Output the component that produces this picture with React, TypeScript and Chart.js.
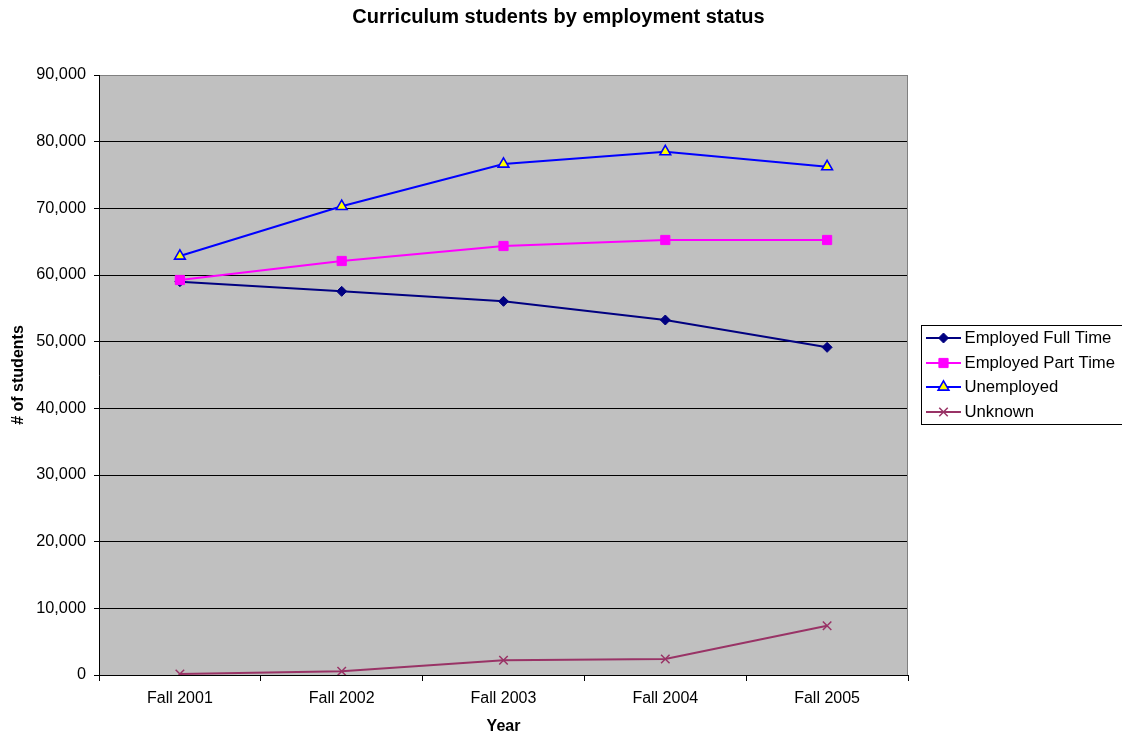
import React, { useEffect, useRef } from "react";
import { Chart, registerables } from "chart.js";
import { drawPoint } from "chart.js/helpers";

Chart.register(...registerables);

// Enrolment counts per fall term
const years = ["Fall 2001", "Fall 2002", "Fall 2003", "Fall 2004", "Fall 2005"];
const employedFullTime = [59000, 57550, 56050, 53250, 49150];
const employedPartTime = [59250, 62100, 64350, 65250, 65250];
const unemployed = [62850, 70300, 76650, 78500, 76250];
const unknown = [150, 550, 2200, 2400, 7390];

const seriesNames = ["Employed Full Time", "Employed Part Time", "Unemployed", "Unknown"];
const yTicks = [0, 10000, 20000, 30000, 40000, 50000, 60000, 70000, 80000, 90000];

const chartTitle = "Curriculum students by employment status";
const xTitle = "Year";
const yTitle = "# of students";

const FONT = '"Liberation Sans", Arial, Helvetica, sans-serif';

type SeriesStyle = {
  line: string;
  fill: string;
  pointStyle: string;
  radius: number;
  borderWidth: number;
};

const styles: SeriesStyle[] = [
  { line: "#000080", fill: "#000080", pointStyle: "rectRot", radius: 5, borderWidth: 1 },
  { line: "#FF00FF", fill: "#FF00FF", pointStyle: "rect", radius: 6.5, borderWidth: 1 },
  { line: "#0000FF", fill: "#FFFF00", pointStyle: "triangle", radius: 6.2, borderWidth: 1.6 },
  { line: "#993366", fill: "#993366", pointStyle: "crossRot", radius: 6, borderWidth: 1.5 },
];

const seriesData = [employedFullTime, employedPartTime, unemployed, unknown];

const PLOT = { left: 99, right: 908, top: 75, bottom: 675 };
const W = 1122;
const H = 740;

const decorations = {
  id: "excelDecorations",
  beforeDraw(chart: any) {
    const { ctx, chartArea } = chart;
    ctx.save();
    ctx.fillStyle = "#FFFFFF";
    ctx.fillRect(0, 0, W, H);
    ctx.fillStyle = "#C0C0C0";
    ctx.fillRect(chartArea.left, chartArea.top, chartArea.right - chartArea.left, chartArea.bottom - chartArea.top);
    ctx.restore();
  },
  beforeDatasetsDraw(chart: any) {
    const { ctx, chartArea } = chart;
    ctx.save();
    ctx.strokeStyle = "#808080";
    ctx.lineWidth = 1;
    ctx.beginPath();
    ctx.moveTo(Math.round(chartArea.right) - 0.5, chartArea.top);
    ctx.lineTo(Math.round(chartArea.right) - 0.5, chartArea.bottom);
    ctx.stroke();
    ctx.restore();
  },
  afterDraw(chart: any) {
    const { ctx, chartArea } = chart;
    ctx.save();
    ctx.fillStyle = "#000000";

    // Title
    ctx.font = `bold 20px ${FONT}`;
    ctx.textAlign = "center";
    ctx.textBaseline = "middle";
    ctx.fillText(chartTitle, 558.5, 17);

    // X axis title
    ctx.font = `bold 16px ${FONT}`;
    ctx.fillText(xTitle, (chartArea.left + chartArea.right) / 2, 727);

    // Y axis title
    ctx.save();
    ctx.translate(19, (chartArea.top + chartArea.bottom) / 2);
    ctx.rotate(-Math.PI / 2);
    ctx.fillText(yTitle, 0, 0);
    ctx.restore();

    // Legend
    const box = { left: 921, top: 325, right: W + 2, bottom: 424 };
    ctx.fillStyle = "#FFFFFF";
    ctx.fillRect(box.left, box.top, box.right - box.left, box.bottom - box.top);
    ctx.strokeStyle = "#000000";
    ctx.lineWidth = 1;
    ctx.strokeRect(box.left + 0.5, box.top + 0.5, box.right - box.left, box.bottom - box.top);

    const rows = [338, 363, 387, 412];
    seriesNames.forEach((name, i) => {
      const s = styles[i];
      const y = rows[i];
      ctx.strokeStyle = s.line;
      ctx.lineWidth = 2;
      ctx.beginPath();
      ctx.moveTo(926, y);
      ctx.lineTo(961, y);
      ctx.stroke();
      ctx.fillStyle = s.fill;
      ctx.strokeStyle = s.line;
      ctx.lineWidth = s.borderWidth;
      drawPoint(ctx, { pointStyle: s.pointStyle as any, radius: s.radius, rotation: 0, borderWidth: s.borderWidth }, 943.5, y);
      ctx.fillStyle = "#000000";
      ctx.font = `16.7px ${FONT}`;
      ctx.textAlign = "left";
      ctx.textBaseline = "middle";
      ctx.fillText(name, 964.5, y + 0.5);
    });
    ctx.restore();
  },
};

export default function App() {
  const canvasRef = useRef<HTMLCanvasElement | null>(null);

  useEffect(() => {
    const canvas = canvasRef.current;
    if (!canvas) return;

    const chart = new Chart(canvas, {
      type: "line",
      data: {
        labels: years,
        datasets: seriesData.map((values, i) => ({
          label: seriesNames[i],
          data: values,
          borderColor: styles[i].line,
          backgroundColor: styles[i].fill,
          borderWidth: 2,
          pointStyle: styles[i].pointStyle as any,
          pointRadius: styles[i].radius,
          pointBorderWidth: styles[i].borderWidth,
          pointBorderColor: styles[i].line,
          pointBackgroundColor: styles[i].fill,
          tension: 0,
          fill: false,
          order: 4 - i,
        })),
      },
      options: {
        responsive: false,
        animation: false,
        devicePixelRatio: 1,
        layout: {
          padding: { left: 0, top: PLOT.top, right: W - PLOT.right, bottom: 0 },
        },
        plugins: {
          legend: { display: false },
          title: { display: false },
          tooltip: { enabled: false },
        },
        scales: {
          x: {
            type: "category",
            offset: true,
            afterFit(scale: any) {
              scale.height = H - PLOT.bottom;
            },
            grid: {
              offset: true,
              drawOnChartArea: false,
              drawTicks: true,
              tickLength: 6,
              tickColor: "#000000",
              lineWidth: 1,
            },
            border: { display: true, color: "#000000", width: 1 },
            ticks: {
              color: "#000000",
              font: { family: FONT, size: 16 },
              padding: 8,
              maxRotation: 0,
            },
          },
          y: {
            min: 0,
            max: 90000,
            afterFit(scale: any) {
              scale.width = PLOT.left;
            },
            afterBuildTicks(scale: any) {
              scale.ticks = yTicks.map((v) => ({ value: v }));
            },
            grid: {
              color: (c: any) => (c.tick && c.tick.value === 90000 ? "#808080" : "#000000"),
              lineWidth: 1,
              drawTicks: true,
              tickLength: 5,
              tickColor: "#000000",
            },
            border: { display: true, color: "#000000", width: 1 },
            ticks: {
              color: "#000000",
              font: { family: FONT, size: 16.3 },
              padding: 8,
              callback: (v: any) => Number(v).toLocaleString("en-US"),
            },
          },
        },
      },
      plugins: [decorations],
    });

    return () => chart.destroy();
  }, []);

  return (
    <div style={{ position: "fixed", left: 0, top: 0, width: W, height: H, background: "#fff" }}>
      <canvas ref={canvasRef} width={W} height={H} style={{ width: W, height: H, display: "block" }} />
    </div>
  );
}
